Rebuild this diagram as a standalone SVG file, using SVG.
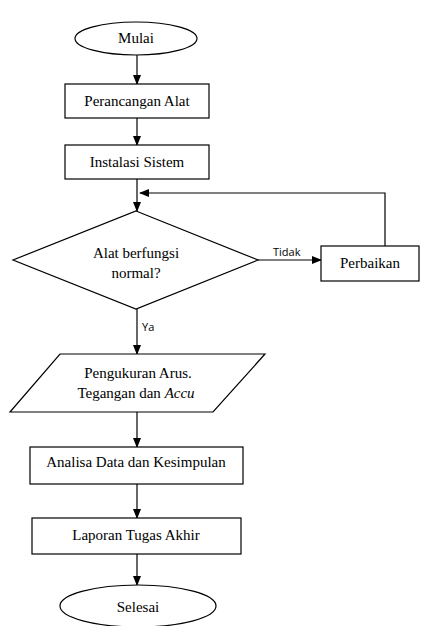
<svg xmlns="http://www.w3.org/2000/svg" width="421" height="626" viewBox="0 0 421 626">
<defs>
<marker id="ah" markerWidth="10" markerHeight="8" refX="9" refY="4" orient="auto" markerUnits="userSpaceOnUse">
<path d="M0,0 L10,4 L0,8 Z" fill="#000"/>
</marker>
</defs>
<style>
.s{fill:#fff;stroke:#000;stroke-width:1.2}
.t{font-family:'Liberation Serif','DejaVu Serif',serif;font-size:15px;fill:#000;text-anchor:middle;dominant-baseline:central}
.l{font-family:'Open Sans','Liberation Sans',sans-serif;font-size:11px;fill:#000}
.c{fill:none;stroke:#000;stroke-width:1.2}
.a{marker-end:url(#ah)}
</style>
<rect width="421" height="626" fill="#fff"/>
<g id="connectors">
<line class="c a" x1="137" y1="55" x2="137" y2="84"/>
<line class="c a" x1="137" y1="118" x2="137" y2="145"/>
<line class="c a" x1="137" y1="179" x2="137" y2="211"/>
<polyline class="c a" points="385,246 385,193 140,193"/>
<line class="c a" x1="258" y1="260" x2="321" y2="260"/>
<line class="c a" x1="137" y1="309" x2="137" y2="354"/>
<line class="c a" x1="137" y1="412" x2="137" y2="447"/>
<line class="c a" x1="137" y1="484" x2="137" y2="518"/>
<line class="c a" x1="137" y1="554" x2="137" y2="585"/>
<text class="l" x="273" y="256">Tidak</text>
<text class="l" x="142" y="331">Ya</text>
</g>
<g id="mulai">
<ellipse class="s" cx="136" cy="38.5" rx="61" ry="16.5"/>
<text class="t" x="136" y="38">Mulai</text>
</g>
<g id="perancangan">
<rect class="s" x="65" y="84" width="144" height="34"/>
<text class="t" x="137" y="101">Perancangan  Alat</text>
</g>
<g id="instalasi">
<rect class="s" x="65" y="145" width="144" height="34"/>
<text class="t" x="137" y="162">Instalasi  Sistem</text>
</g>
<g id="decision">
<polygon class="s" points="136,211 258,260 136,309 13,260"/>
<text class="t" x="136" y="253">Alat berfungsi</text>
<text class="t" x="136" y="273">normal?</text>
</g>
<g id="perbaikan">
<rect class="s" x="321" y="246" width="98" height="35"/>
<text class="t" x="370" y="263">Perbaikan</text>
</g>
<g id="pengukuran">
<polygon class="s" points="60,354 265,354 213,412 10,412"/>
<text class="t" x="138" y="373">Pengukuran Arus.</text>
<text class="t" x="136" y="393">Tegangan  dan <tspan font-style="italic">Accu</tspan></text>
</g>
<g id="analisa">
<rect class="s" x="30" y="447" width="213" height="37"/>
<text class="t" x="136" y="462">Analisa Data  dan Kesimpulan</text>
</g>
<g id="laporan">
<rect class="s" x="32" y="518" width="209" height="36"/>
<text class="t" x="136" y="535">Laporan  Tugas  Akhir</text>
</g>
<g id="selesai">
<ellipse class="s" cx="138" cy="606" rx="78" ry="21"/>
<text class="t" x="138" y="607">Selesai</text>
</g>
</svg>
